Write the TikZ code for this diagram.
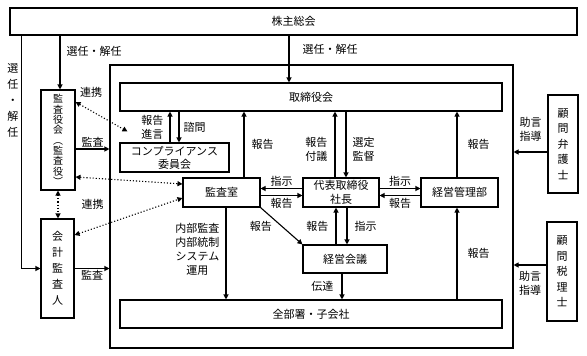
\documentclass[tikz,border=0pt]{standalone}
\usepackage{fontspec}
\setmainfont{Noto Sans CJK JP}
\usetikzlibrary{arrows.meta,positioning,calc}
\tikzset{
  >={Triangle[length=5pt,width=5pt]},
  box/.style={draw, line width=1.1pt, inner sep=0pt, align=center},
  vbox/.style={box, font=\fontsize{11}{15.5}\selectfont},
  lbl/.style={inner sep=1pt, align=center},
  arr/.style={->, line width=1.1pt},
  link/.style={<->, line width=1.1pt, dotted},
}

\begin{document}
\begin{tikzpicture}[x=1pt, y=-1pt, font=\fontsize{11}{14}\selectfont]
  \useasboundingbox (0,0) rectangle (587,356);

  \node[box, minimum width=567pt, minimum height=27pt] (soukai) at (293.5,21.5) {株主総会};
  \node[box, minimum width=403pt, minimum height=283pt] (frame) at (311.5,206.5) {};

  \node[box, minimum width=382pt, minimum height=28pt] (torishimari) at (311,97) {取締役会};
  \node[box, minimum width=109pt, minimum height=29pt, font=\fontsize{11}{13}\selectfont] (comp) at (174.5,157.5) {コンプライアンス\\委員会};
  \node[box, minimum width=77pt, minimum height=29pt] (shitsu) at (221.5,192.5) {監査室};
  \node[box, minimum width=76pt, minimum height=29pt, font=\fontsize{11}{13.5}\selectfont] (shacho) at (341,192.5) {代表取締役\\社長};
  \node[box, minimum width=77pt, minimum height=29pt] (kanri) at (459.5,192.5) {経営管理部};
  \node[box, minimum width=84pt, minimum height=28pt] (kaigi) at (345,259) {経営会議};
  \node[box, minimum width=382pt, minimum height=28pt] (zenbu) at (311,314) {全部署・子会社};

  \node[vbox, minimum width=34pt, minimum height=100pt, font=\fontsize{10}{10.3}\selectfont] (kansayaku) at (58,140) {監\\査\\役\\会\\︵\\監\\査\\役\\︶};
  \node[vbox, minimum width=33pt, minimum height=99pt, font=\fontsize{11}{16}\selectfont] (kaikei) at (57.5,268.5) {会\\計\\監\\査\\人};
  \node[vbox, minimum width=30pt, minimum height=98pt] (bengoshi) at (563,144) {顧\\問\\弁\\護\\士};
  \node[vbox, minimum width=30pt, minimum height=99pt] (zeirishi) at (562,271.5) {顧\\問\\税\\理\\士};

  % 株主総会から
  \draw[arr] ([xshift=2pt]kansayaku.north |- soukai.south) -- node[lbl, pos=.3, right=5pt] {選任・解任} ([xshift=2pt]kansayaku.north);
  \draw[arr] ([xshift=-22pt]torishimari.north |- soukai.south) -- node[lbl, pos=.3, right=12pt] {選任・解任} ([xshift=-22pt]torishimari.north);
  \draw[arr] ([xshift=12pt]soukai.south west) |- (kaikei.west);
  \node[lbl, font=\fontsize{11}{16}\selectfont] (sennin) at (13,100) {選\\任\\・\\解\\任};

  % 連携
  \draw[link] ([yshift=38pt]kansayaku.east) -- node[lbl, pos=.3, above=12pt] {連携} ([xshift=8pt,yshift=11pt]comp.north west);
  \draw[link] ([yshift=-37pt]kansayaku.east) -- ([yshift=8.5pt]shitsu.west);
  \draw[link] ([yshift=33.5pt]kaikei.east) -- ([yshift=-5.5pt]shitsu.west);
  \draw[link] (kansayaku.south) -- node[lbl, right=22pt] {連携} (kansayaku.south |- kaikei.north);

  % 監査
  \coordinate (k1) at ([yshift=-9pt]kansayaku.east);
  \draw[arr] (k1) -- node[lbl, above] {監査} (k1 -| frame.west);
  \draw[arr] (kaikei.east) -- node[lbl, below] {監査} (kaikei.east -| frame.west);

  % 取締役会まわり
  \draw[arr] ([xshift=-4.5pt]comp.north) -- node[lbl, left=5pt] {報告\\進言} ([xshift=-4.5pt]comp.north |- torishimari.south);
  \draw[arr] ([xshift=4.5pt]comp.north |- torishimari.south) -- node[lbl, right=3pt] {諮問} ([xshift=4.5pt]comp.north);
  \draw[arr] ([xshift=22.5pt]shitsu.north) -- node[lbl, right=6pt] {報告} ([xshift=22.5pt]shitsu.north |- torishimari.south);
  \draw[arr] ([xshift=-6pt]shacho.north) -- node[lbl, pos=.43, left=6pt] {報告\\付議} ([xshift=-6pt]shacho.north |- torishimari.south);
  \draw[arr] ([xshift=5pt]shacho.north |- torishimari.south) -- node[lbl, pos=.57, right=5pt] {選定\\監督} ([xshift=5pt]shacho.north);
  \draw[arr] ([xshift=-2.5pt]kanri.north) -- node[lbl, right=9pt] {報告} ([xshift=-2.5pt]kanri.north |- torishimari.south);

  % 監査室・社長・経営管理部
  \draw[arr] ([yshift=4pt]shacho.west) -- node[lbl, above=1pt] {指示} ([yshift=4pt]shacho.west -| shitsu.east);
  \draw[arr] ([yshift=-3pt]shitsu.east) -- node[lbl, below=1pt] {報告} ([yshift=-3pt]shitsu.east -| shacho.west);
  \draw[arr] ([yshift=4pt]shacho.east) -- node[lbl, above=1pt] {指示} ([yshift=4pt]shacho.east -| kanri.west);
  \draw[arr] ([yshift=-3pt]kanri.west) -- node[lbl, below=1pt] {報告} ([yshift=-3pt]kanri.west -| shacho.east);

  % 経営会議
  \draw[arr] (shitsu.south east) -- node[lbl, left=8pt] {報告} (kaigi.north west);
  \draw[arr] ([xshift=-5pt]shacho.south |- kaigi.north) -- node[lbl, left=6pt] {報告} ([xshift=-5pt]shacho.south);
  \draw[arr] ([xshift=6pt]shacho.south) -- node[lbl, right=6pt] {指示} ([xshift=6pt]shacho.south |- kaigi.north);

  % 全部署・子会社
  \draw[arr] ([xshift=4.5pt]shitsu.south) -- node[lbl, pos=.45, left=5pt] {内部監査\\内部統制\\システム\\運用} ([xshift=4.5pt]shitsu.south |- zenbu.north);
  \draw[arr] ([xshift=-3pt]kaigi.south) -- node[lbl, left=7pt] {伝達} ([xshift=-3pt]kaigi.south |- zenbu.north);
  \draw[arr] ([xshift=-2.5pt]kanri.south |- zenbu.north) -- node[lbl, right=9pt] {報告} ([xshift=-2.5pt]kanri.south);

  % 顧問
  \draw[arr] ([yshift=-8pt]bengoshi.west) -- node[lbl, above=9pt] {助言\\指導} ([yshift=-8pt]bengoshi.west -| frame.east);
  \draw[arr] ([yshift=6.5pt]zeirishi.west) -- node[lbl, below=5pt] {助言\\指導} ([yshift=6.5pt]zeirishi.west -| frame.east);
\end{tikzpicture}
\end{document}
